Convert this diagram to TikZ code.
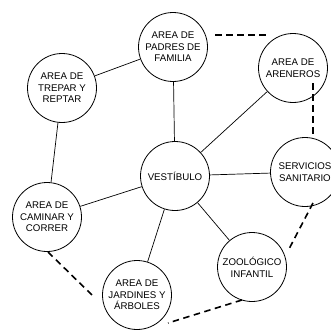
\documentclass[tikz,border=0pt]{standalone}
\usepackage{fontspec}
\setmainfont{Liberation Sans}
\begin{document}
\begin{tikzpicture}[x=1pt,y=-1pt,
  area/.style={draw,circle,line width=0.8pt,minimum size=69pt,inner sep=0pt,align=center,
    font=\fontsize{9.7}{11.6}\selectfont},
  link/.style={line width=0.7pt},
  dlink/.style={line width=1.6pt,dash pattern=on 6.5pt off 4.5pt}]
\useasboundingbox (0,0) rectangle (330,332);
\node[area] (padres) at (173,47) {AREA DE\\PADRES DE\\FAMILIA};
\node[area] (areneros) at (293,68) {AREA DE\\ARENEROS};
\node[area] (trepar) at (62,88) {AREA DE\\TREPAR Y\\REPTAR};
\node[area] (vest) at (175,176) {VESTÍBULO};
\node[area] (serv) at (305,172) {SERVICIOS\\SANITARIO};
\node[area] (caminar) at (47,217) {AREA DE\\CAMINAR Y\\CORRER};
\node[area] (jardines) at (137,295) {AREA DE\\JARDINES Y\\ÁRBOLES};
\node[area] (zoo) at (252,267) {ZOOLÓGICO\\INFANTIL};
\draw[link] (padres) -- (trepar);
\draw[link] (padres) -- (vest);
\draw[link] (trepar) -- (caminar);
\draw[link] (vest) -- (areneros);
\draw[link] (vest) -- (serv);
\draw[link] (vest) -- (caminar);
\draw[link] (vest) -- (jardines);
\draw[link] (vest) -- (zoo);
\coordinate (d1a) at (215,35);
\coordinate (d1b) at (267,35);
\coordinate (d2a) at (313,83);
\coordinate (d2b) at (313,136);
\coordinate (d3a) at (313,203);
\coordinate (d3b) at (289,249);
\coordinate (d4a) at (242,300);
\coordinate (d4b) at (168,323);
\coordinate (d5a) at (48,252);
\coordinate (d5b) at (93,296);
\draw[dlink] (d1a) -- (d1b);
\draw[dlink] (d2a) -- (d2b);
\draw[dlink] (d3a) -- (d3b);
\draw[dlink] (d4a) -- (d4b);
\draw[dlink] (d5a) -- (d5b);
\end{tikzpicture}
\end{document}
